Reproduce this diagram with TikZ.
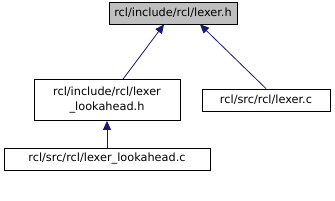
\documentclass[tikz,border=0pt]{standalone}
\usepackage{fontspec}
\setmainfont{DejaVu Sans}
\usetikzlibrary{arrows.meta,positioning,calc}
\definecolor{edgeblue}{RGB}{25,25,112}
\definecolor{curfill}{RGB}{191,191,191}

\begin{document}
\begin{tikzpicture}[x=1pt,y=-1pt,font=\fontsize{11.3}{14.5}\selectfont,
      fb/.style={draw=black,line width=0.8pt,inner sep=0pt,minimum height=22pt,align=center},
      dep/.style={draw=edgeblue,line width=0.8pt,{Triangle[length=9pt,width=8pt,fill=edgeblue]}-}]
    \useasboundingbox (0,0) rectangle (335,201);
    \node[fb,fill=curfill,minimum width=128pt] (lexh) at (173,13) {rcl/include/rcl/lexer.h};
    \node[fb,minimum width=146pt,minimum height=41pt] (lah) at (107,100) {rcl/include/rcl/lexer\\\_lookahead.h};
    \node[fb,minimum width=128pt] (lexc) at (266,100) {rcl/src/rcl/lexer.c};
    \node[fb,minimum width=206pt] (lac) at (107,159) {rcl/src/rcl/lexer\_lookahead.c};

    \draw[dep] ([xshift=-9pt]lexh.south) -- ([xshift=16pt]lah.north);
    \draw[dep] ([xshift=27pt]lexh.south) -- (lexc.north);
    \draw[dep] (lah.south) -- (lac.north);
\end{tikzpicture}
\end{document}
